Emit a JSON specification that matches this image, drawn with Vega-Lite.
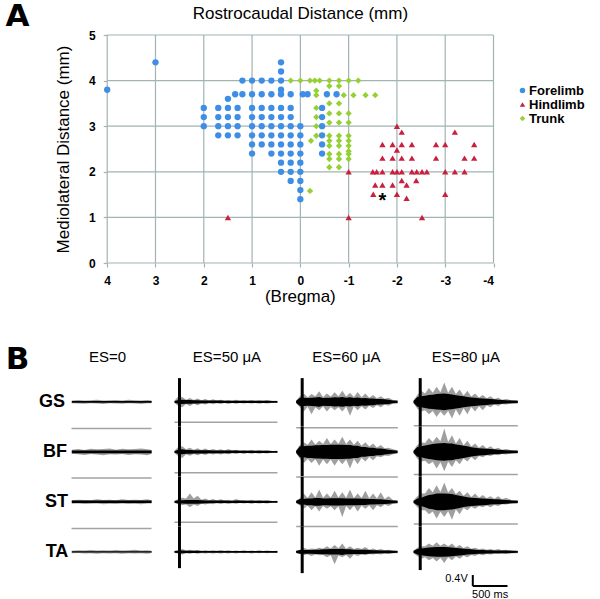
{
"$schema": "https://vega.github.io/schema/vega-lite/v6.json",
"background": "white",
"padding": {"left": 5, "top": 0, "right": 5, "bottom": 0},
"config": {"font": "Liberation Sans", "view": {"stroke": null}},
"spacing": 38,
"vconcat": [
{
"width": 438.5, "height": 228,
"layer": [
{
"data": {"values": [
{"x":4,"x2":4,"y":0,"y2":5},{"x":3,"x2":3,"y":0,"y2":5},{"x":2,"x2":2,"y":0,"y2":5},{"x":1,"x2":1,"y":0,"y2":5},{"x":0,"x2":0,"y":0,"y2":5},{"x":-1,"x2":-1,"y":0,"y2":5},{"x":-2,"x2":-2,"y":0,"y2":5},{"x":-3,"x2":-3,"y":0,"y2":5},{"x":-4,"x2":-4,"y":0,"y2":5},
{"x":4,"x2":-4,"y":0,"y2":0},{"x":4,"x2":-4,"y":1,"y2":1},{"x":4,"x2":-4,"y":2,"y2":2},{"x":4,"x2":-4,"y":3,"y2":3},{"x":4,"x2":-4,"y":4,"y2":4},{"x":4,"x2":-4,"y":5,"y2":5}
]},
"mark": {"type": "rule", "color": "#a2b3b3", "strokeWidth": 1.2},
"encoding": {"x": {"field": "x", "type": "quantitative"}, "x2": {"field": "x2"}, "y": {"field": "y", "type": "quantitative"}, "y2": {"field": "y2"}}
},
{
"data": {"values": [
{"g":"Forelimb","x":4.0,"y":3.8},{"g":"Forelimb","x":3.0,"y":4.4},{"g":"Forelimb","x":0.4,"y":4.4},{"g":"Forelimb","x":0.4,"y":4.2},
{"g":"Forelimb","x":1.2,"y":4.0},{"g":"Forelimb","x":1.0,"y":4.0},{"g":"Forelimb","x":0.8,"y":4.0},{"g":"Forelimb","x":0.6,"y":4.0},{"g":"Forelimb","x":0.4,"y":4.0},
{"g":"Forelimb","x":0.4,"y":3.8},
{"g":"Forelimb","x":1.35,"y":3.7},{"g":"Forelimb","x":1.2,"y":3.7},{"g":"Forelimb","x":1.0,"y":3.7},{"g":"Forelimb","x":0.8,"y":3.7},{"g":"Forelimb","x":0.6,"y":3.7},{"g":"Forelimb","x":0.4,"y":3.7},{"g":"Forelimb","x":0.2,"y":3.7},{"g":"Forelimb","x":-0.05,"y":3.7},{"g":"Forelimb","x":-0.15,"y":3.7},{"g":"Forelimb","x":-0.55,"y":3.7},{"g":"Forelimb","x":-0.75,"y":3.7},
{"g":"Forelimb","x":1.5,"y":3.6},
{"g":"Forelimb","x":2.0,"y":3.4},{"g":"Forelimb","x":1.7,"y":3.4},{"g":"Forelimb","x":1.5,"y":3.4},{"g":"Forelimb","x":1.3,"y":3.4},{"g":"Forelimb","x":1.0,"y":3.4},{"g":"Forelimb","x":0.8,"y":3.4},{"g":"Forelimb","x":0.6,"y":3.4},{"g":"Forelimb","x":0.4,"y":3.4},{"g":"Forelimb","x":0.2,"y":3.4},{"g":"Forelimb","x":-0.45,"y":3.4},
{"g":"Forelimb","x":2.0,"y":3.2},{"g":"Forelimb","x":1.7,"y":3.2},{"g":"Forelimb","x":1.5,"y":3.2},{"g":"Forelimb","x":1.3,"y":3.2},{"g":"Forelimb","x":1.0,"y":3.2},{"g":"Forelimb","x":0.8,"y":3.2},{"g":"Forelimb","x":0.6,"y":3.2},{"g":"Forelimb","x":0.4,"y":3.2},{"g":"Forelimb","x":0.2,"y":3.2},{"g":"Forelimb","x":-0.45,"y":3.2},
{"g":"Forelimb","x":2.0,"y":3.0},{"g":"Forelimb","x":1.7,"y":3.0},{"g":"Forelimb","x":1.5,"y":3.0},{"g":"Forelimb","x":1.3,"y":3.0},{"g":"Forelimb","x":1.0,"y":3.0},{"g":"Forelimb","x":0.8,"y":3.0},{"g":"Forelimb","x":0.6,"y":3.0},{"g":"Forelimb","x":0.4,"y":3.0},{"g":"Forelimb","x":0.2,"y":3.0},{"g":"Forelimb","x":0.0,"y":3.0},{"g":"Forelimb","x":-0.45,"y":3.0},
{"g":"Forelimb","x":1.7,"y":2.8},{"g":"Forelimb","x":1.5,"y":2.8},{"g":"Forelimb","x":1.3,"y":2.8},{"g":"Forelimb","x":1.0,"y":2.8},{"g":"Forelimb","x":0.8,"y":2.8},{"g":"Forelimb","x":0.6,"y":2.8},{"g":"Forelimb","x":0.4,"y":2.8},{"g":"Forelimb","x":0.2,"y":2.8},{"g":"Forelimb","x":0.0,"y":2.8},{"g":"Forelimb","x":-0.45,"y":2.8},
{"g":"Forelimb","x":1.0,"y":2.6},{"g":"Forelimb","x":0.8,"y":2.6},{"g":"Forelimb","x":0.6,"y":2.6},{"g":"Forelimb","x":0.4,"y":2.6},{"g":"Forelimb","x":0.2,"y":2.6},{"g":"Forelimb","x":0.0,"y":2.6},{"g":"Forelimb","x":-0.45,"y":2.6},
{"g":"Forelimb","x":1.0,"y":2.4},{"g":"Forelimb","x":0.6,"y":2.4},{"g":"Forelimb","x":0.4,"y":2.4},{"g":"Forelimb","x":0.2,"y":2.4},{"g":"Forelimb","x":0.0,"y":2.4},{"g":"Forelimb","x":-0.45,"y":2.4},
{"g":"Forelimb","x":0.4,"y":2.2},{"g":"Forelimb","x":0.2,"y":2.2},{"g":"Forelimb","x":0.0,"y":2.2},
{"g":"Forelimb","x":0.4,"y":2.0},{"g":"Forelimb","x":0.2,"y":2.0},{"g":"Forelimb","x":0.0,"y":2.0},
{"g":"Forelimb","x":0.2,"y":1.8},{"g":"Forelimb","x":0.0,"y":1.8},
{"g":"Forelimb","x":0.0,"y":1.6},{"g":"Forelimb","x":0.0,"y":1.4},
{"g":"Hindlimb","x":1.5,"y":1.0},{"g":"Hindlimb","x":-1.0,"y":1.0},{"g":"Hindlimb","x":-2.52,"y":1.0},
{"g":"Hindlimb","x":-2.0,"y":3.0},{"g":"Hindlimb","x":-2.1,"y":2.87},{"g":"Hindlimb","x":-3.2,"y":2.87},
{"g":"Hindlimb","x":-1.7,"y":2.6},{"g":"Hindlimb","x":-1.91,"y":2.6},{"g":"Hindlimb","x":-2.1,"y":2.6},{"g":"Hindlimb","x":-2.31,"y":2.6},{"g":"Hindlimb","x":-2.81,"y":2.6},{"g":"Hindlimb","x":-3.0,"y":2.6},{"g":"Hindlimb","x":-3.6,"y":2.6},
{"g":"Hindlimb","x":-2.0,"y":2.48},
{"g":"Hindlimb","x":-1.7,"y":2.3},{"g":"Hindlimb","x":-1.91,"y":2.3},{"g":"Hindlimb","x":-2.1,"y":2.3},{"g":"Hindlimb","x":-2.31,"y":2.3},{"g":"Hindlimb","x":-2.81,"y":2.3},{"g":"Hindlimb","x":-3.4,"y":2.3},{"g":"Hindlimb","x":-3.6,"y":2.3},
{"g":"Hindlimb","x":-1.0,"y":2.0},{"g":"Hindlimb","x":-1.5,"y":2.0},{"g":"Hindlimb","x":-1.58,"y":2.0},{"g":"Hindlimb","x":-1.7,"y":2.0},{"g":"Hindlimb","x":-1.91,"y":2.0},{"g":"Hindlimb","x":-2.0,"y":2.0},{"g":"Hindlimb","x":-2.1,"y":2.0},{"g":"Hindlimb","x":-2.31,"y":2.0},{"g":"Hindlimb","x":-2.41,"y":2.0},{"g":"Hindlimb","x":-2.52,"y":2.0},{"g":"Hindlimb","x":-2.62,"y":2.0},{"g":"Hindlimb","x":-3.0,"y":2.0},{"g":"Hindlimb","x":-3.2,"y":2.0},{"g":"Hindlimb","x":-3.4,"y":2.0},
{"g":"Hindlimb","x":-2.1,"y":1.81},{"g":"Hindlimb","x":-2.4,"y":1.81},
{"g":"Hindlimb","x":-1.55,"y":1.71},{"g":"Hindlimb","x":-1.7,"y":1.71},{"g":"Hindlimb","x":-1.91,"y":1.71},{"g":"Hindlimb","x":-2.2,"y":1.71},
{"g":"Hindlimb","x":-1.51,"y":1.51},{"g":"Hindlimb","x":-2.0,"y":1.51},{"g":"Hindlimb","x":-3.0,"y":1.51},
{"g":"Hindlimb","x":-2.2,"y":1.42},
{"g":"Trunk","x":0.2,"y":4.0},{"g":"Trunk","x":0.0,"y":4.0},{"g":"Trunk","x":-0.2,"y":4.0},{"g":"Trunk","x":-0.3,"y":4.0},{"g":"Trunk","x":-0.4,"y":4.0},{"g":"Trunk","x":-0.6,"y":4.0},{"g":"Trunk","x":-0.8,"y":4.0},{"g":"Trunk","x":-1.0,"y":4.0},{"g":"Trunk","x":-1.2,"y":4.0},
{"g":"Trunk","x":-0.6,"y":3.88},{"g":"Trunk","x":-0.8,"y":3.88},
{"g":"Trunk","x":-0.33,"y":3.78},
{"g":"Trunk","x":-0.33,"y":3.68},{"g":"Trunk","x":-0.9,"y":3.68},{"g":"Trunk","x":-1.1,"y":3.68},{"g":"Trunk","x":-1.35,"y":3.68},{"g":"Trunk","x":-1.55,"y":3.68},
{"g":"Trunk","x":-0.6,"y":3.5},{"g":"Trunk","x":-0.8,"y":3.5},
{"g":"Trunk","x":-0.33,"y":3.4},
{"g":"Trunk","x":-0.6,"y":3.28},{"g":"Trunk","x":-0.8,"y":3.28},{"g":"Trunk","x":-1.0,"y":3.28},
{"g":"Trunk","x":-0.33,"y":3.2},
{"g":"Trunk","x":-0.6,"y":3.08},{"g":"Trunk","x":-0.8,"y":3.08},{"g":"Trunk","x":-1.0,"y":3.08},
{"g":"Trunk","x":-0.33,"y":3.0},
{"g":"Trunk","x":-0.33,"y":2.79},{"g":"Trunk","x":-0.6,"y":2.79},{"g":"Trunk","x":-0.8,"y":2.79},{"g":"Trunk","x":-1.0,"y":2.79},
{"g":"Trunk","x":-0.22,"y":2.68},{"g":"Trunk","x":-0.6,"y":2.68},{"g":"Trunk","x":-0.8,"y":2.68},{"g":"Trunk","x":-1.0,"y":2.68},
{"g":"Trunk","x":-0.6,"y":2.57},{"g":"Trunk","x":-0.8,"y":2.57},{"g":"Trunk","x":-1.0,"y":2.57},
{"g":"Trunk","x":-1.0,"y":2.45},
{"g":"Trunk","x":-0.6,"y":2.39},{"g":"Trunk","x":-0.8,"y":2.39},{"g":"Trunk","x":-1.0,"y":2.39},
{"g":"Trunk","x":-0.6,"y":2.28},{"g":"Trunk","x":-0.8,"y":2.28},{"g":"Trunk","x":-1.0,"y":2.28},
{"g":"Trunk","x":-0.6,"y":2.1},{"g":"Trunk","x":-0.8,"y":2.1},
{"g":"Trunk","x":-0.2,"y":1.58}
]},
"mark": {"type": "point", "filled": true, "opacity": 1, "size": 40},
"encoding": {
"x": {"field": "x", "type": "quantitative", "title": null,
 "scale": {"domain": [-4, 5.081], "reverse": true, "nice": false, "zero": false},
 "axis": {"values": [-4,-3,-2,-1,0,1,2,3,4], "labelExpr": "datum.value", "grid": false, "domain": false, "tickColor": "#a2b3b3", "tickWidth": 1.2, "tickSize": 4, "labelFontWeight": "bold", "labelFontSize": 12, "labelColor": "black", "labelPadding": 8}},
"y": {"field": "y", "type": "quantitative", "title": "Mediolateral Distance (mm)",
 "scale": {"domain": [0, 5], "nice": false, "zero": false},
 "axis": {"values": [0,1,2,3,4,5], "offset": -52.2, "grid": false, "domain": false, "tickColor": "#a2b3b3", "tickWidth": 1.2, "tickSize": 4, "labelFontWeight": "bold", "labelFontSize": 12, "labelColor": "black", "labelPadding": 8, "titleFontSize": 17, "titleFontWeight": "normal", "titleColor": "black", "titlePadding": 16}},
"color": {"field": "g", "type": "nominal", "scale": {"domain": ["Forelimb","Hindlimb","Trunk"], "range": ["#3f8ee6","#c8203e","#95d035"]},
 "legend": {"title": null, "orient": "none", "legendX": 461, "legendY": 49, "labelFontWeight": "bold", "labelFontSize": 13, "labelColor": "black", "symbolSize": 30, "rowPadding": 0, "labelOffset": 0}},
"shape": {"field": "g", "type": "nominal", "scale": {"domain": ["Forelimb","Hindlimb","Trunk"], "range": ["circle","triangle-up","diamond"]}}
}
},
{
"data": {"values": [{"x": -1.7, "y": 1.45, "s": "*"}]},
"mark": {"type": "text", "fontSize": 20, "fontWeight": "bold", "color": "black", "baseline": "middle", "dy": 4},
"encoding": {"x": {"field": "x", "type": "quantitative"}, "y": {"field": "y", "type": "quantitative"}, "text": {"field": "s"}}
},
{
"data": {"values": [{"x": 0, "y": 5.45, "s": "Rostrocaudal Distance (mm)"}, {"x": 0, "y": -0.75, "s": "(Bregma)"}]},
"mark": {"type": "text", "fontSize": 17, "color": "black", "baseline": "middle"},
"encoding": {"x": {"field": "x", "type": "quantitative"}, "y": {"field": "y", "type": "quantitative"}, "text": {"field": "s"}}
},
{
"data": {"values": [{"x": 5.86, "y": 5.4, "s": "A"}]},
"mark": {"type": "text", "fontSize": 31, "fontWeight": "bold", "font": "DejaVu Sans", "color": "black", "baseline": "middle"},
"encoding": {"x": {"field": "x", "type": "quantitative"}, "y": {"field": "y", "type": "quantitative"}, "text": {"field": "s"}}
}
]
},
{
"data": {"values": [
{"k":"tr","c":"ES=0","m":"GS","t":240,"hi":0.05,"lo":-0.05,"ch":0.03,"cl":-0.03},
{"k":"tr","c":"ES=0","m":"GS","t":330,"hi":0.07,"lo":-0.06,"ch":0.03,"cl":-0.03},
{"k":"tr","c":"ES=0","m":"GS","t":420,"hi":0.05,"lo":-0.07,"ch":0.03,"cl":-0.03},
{"k":"tr","c":"ES=0","m":"GS","t":510,"hi":0.06,"lo":-0.05,"ch":0.03,"cl":-0.03},
{"k":"tr","c":"ES=0","m":"GS","t":600,"hi":0.08,"lo":-0.06,"ch":0.03,"cl":-0.03},
{"k":"tr","c":"ES=0","m":"GS","t":690,"hi":0.05,"lo":-0.08,"ch":0.03,"cl":-0.03},
{"k":"tr","c":"ES=0","m":"GS","t":780,"hi":0.06,"lo":-0.05,"ch":0.03,"cl":-0.03},
{"k":"tr","c":"ES=0","m":"GS","t":870,"hi":0.07,"lo":-0.06,"ch":0.03,"cl":-0.03},
{"k":"tr","c":"ES=0","m":"GS","t":960,"hi":0.05,"lo":-0.07,"ch":0.03,"cl":-0.03},
{"k":"tr","c":"ES=0","m":"GS","t":1050,"hi":0.08,"lo":-0.05,"ch":0.03,"cl":-0.03},
{"k":"tr","c":"ES=0","m":"GS","t":1140,"hi":0.06,"lo":-0.06,"ch":0.03,"cl":-0.03},
{"k":"tr","c":"ES=0","m":"GS","t":1230,"hi":0.05,"lo":-0.08,"ch":0.03,"cl":-0.03},
{"k":"tr","c":"ES=0","m":"GS","t":1320,"hi":0.07,"lo":-0.05,"ch":0.03,"cl":-0.03},
{"k":"tr","c":"ES=0","m":"GS","t":1380,"hi":0.05,"lo":-0.05,"ch":0.03,"cl":-0.03},
{"k":"tr","c":"ES=0","m":"BF","t":240,"hi":0.08,"lo":-0.07,"ch":0.05,"cl":-0.05},
{"k":"tr","c":"ES=0","m":"BF","t":330,"hi":0.1,"lo":-0.09,"ch":0.05,"cl":-0.05},
{"k":"tr","c":"ES=0","m":"BF","t":420,"hi":0.07,"lo":-0.11,"ch":0.05,"cl":-0.05},
{"k":"tr","c":"ES=0","m":"BF","t":510,"hi":0.11,"lo":-0.08,"ch":0.05,"cl":-0.05},
{"k":"tr","c":"ES=0","m":"BF","t":600,"hi":0.09,"lo":-0.1,"ch":0.05,"cl":-0.05},
{"k":"tr","c":"ES=0","m":"BF","t":690,"hi":0.1,"lo":-0.12,"ch":0.05,"cl":-0.05},
{"k":"tr","c":"ES=0","m":"BF","t":780,"hi":0.12,"lo":-0.09,"ch":0.05,"cl":-0.05},
{"k":"tr","c":"ES=0","m":"BF","t":870,"hi":0.08,"lo":-0.1,"ch":0.05,"cl":-0.05},
{"k":"tr","c":"ES=0","m":"BF","t":960,"hi":0.11,"lo":-0.08,"ch":0.05,"cl":-0.05},
{"k":"tr","c":"ES=0","m":"BF","t":1050,"hi":0.09,"lo":-0.11,"ch":0.05,"cl":-0.05},
{"k":"tr","c":"ES=0","m":"BF","t":1140,"hi":0.1,"lo":-0.09,"ch":0.05,"cl":-0.05},
{"k":"tr","c":"ES=0","m":"BF","t":1230,"hi":0.12,"lo":-0.1,"ch":0.05,"cl":-0.05},
{"k":"tr","c":"ES=0","m":"BF","t":1320,"hi":0.09,"lo":-0.12,"ch":0.05,"cl":-0.05},
{"k":"tr","c":"ES=0","m":"BF","t":1380,"hi":0.07,"lo":-0.07,"ch":0.05,"cl":-0.05},
{"k":"tr","c":"ES=0","m":"ST","t":240,"hi":0.06,"lo":-0.07,"ch":0.045,"cl":-0.045},
{"k":"tr","c":"ES=0","m":"ST","t":330,"hi":0.08,"lo":-0.06,"ch":0.045,"cl":-0.045},
{"k":"tr","c":"ES=0","m":"ST","t":420,"hi":0.07,"lo":-0.08,"ch":0.045,"cl":-0.045},
{"k":"tr","c":"ES=0","m":"ST","t":510,"hi":0.06,"lo":-0.07,"ch":0.045,"cl":-0.045},
{"k":"tr","c":"ES=0","m":"ST","t":600,"hi":0.09,"lo":-0.06,"ch":0.045,"cl":-0.045},
{"k":"tr","c":"ES=0","m":"ST","t":690,"hi":0.07,"lo":-0.09,"ch":0.045,"cl":-0.045},
{"k":"tr","c":"ES=0","m":"ST","t":780,"hi":0.08,"lo":-0.07,"ch":0.045,"cl":-0.045},
{"k":"tr","c":"ES=0","m":"ST","t":870,"hi":0.06,"lo":-0.08,"ch":0.045,"cl":-0.045},
{"k":"tr","c":"ES=0","m":"ST","t":960,"hi":0.09,"lo":-0.06,"ch":0.045,"cl":-0.045},
{"k":"tr","c":"ES=0","m":"ST","t":1050,"hi":0.07,"lo":-0.08,"ch":0.045,"cl":-0.045},
{"k":"tr","c":"ES=0","m":"ST","t":1140,"hi":0.08,"lo":-0.07,"ch":0.045,"cl":-0.045},
{"k":"tr","c":"ES=0","m":"ST","t":1230,"hi":0.07,"lo":-0.09,"ch":0.045,"cl":-0.045},
{"k":"tr","c":"ES=0","m":"ST","t":1320,"hi":0.09,"lo":-0.06,"ch":0.045,"cl":-0.045},
{"k":"tr","c":"ES=0","m":"ST","t":1380,"hi":0.06,"lo":-0.06,"ch":0.045,"cl":-0.045},
{"k":"tr","c":"ES=0","m":"TA","t":240,"hi":0.04,"lo":-0.05,"ch":0.025,"cl":-0.025},
{"k":"tr","c":"ES=0","m":"TA","t":330,"hi":0.06,"lo":-0.04,"ch":0.025,"cl":-0.025},
{"k":"tr","c":"ES=0","m":"TA","t":420,"hi":0.05,"lo":-0.06,"ch":0.025,"cl":-0.025},
{"k":"tr","c":"ES=0","m":"TA","t":510,"hi":0.07,"lo":-0.05,"ch":0.025,"cl":-0.025},
{"k":"tr","c":"ES=0","m":"TA","t":600,"hi":0.05,"lo":-0.07,"ch":0.025,"cl":-0.025},
{"k":"tr","c":"ES=0","m":"TA","t":690,"hi":0.06,"lo":-0.05,"ch":0.025,"cl":-0.025},
{"k":"tr","c":"ES=0","m":"TA","t":780,"hi":0.05,"lo":-0.06,"ch":0.025,"cl":-0.025},
{"k":"tr","c":"ES=0","m":"TA","t":870,"hi":0.07,"lo":-0.05,"ch":0.025,"cl":-0.025},
{"k":"tr","c":"ES=0","m":"TA","t":960,"hi":0.05,"lo":-0.07,"ch":0.025,"cl":-0.025},
{"k":"tr","c":"ES=0","m":"TA","t":1050,"hi":0.06,"lo":-0.05,"ch":0.025,"cl":-0.025},
{"k":"tr","c":"ES=0","m":"TA","t":1140,"hi":0.08,"lo":-0.06,"ch":0.025,"cl":-0.025},
{"k":"tr","c":"ES=0","m":"TA","t":1230,"hi":0.05,"lo":-0.05,"ch":0.025,"cl":-0.025},
{"k":"tr","c":"ES=0","m":"TA","t":1320,"hi":0.06,"lo":-0.07,"ch":0.025,"cl":-0.025},
{"k":"tr","c":"ES=0","m":"TA","t":1380,"hi":0.04,"lo":-0.04,"ch":0.025,"cl":-0.025},
{"k":"tr","c":"ES=50 μA","m":"GS","t":0,"hi":0.04,"lo":-0.04,"ch":0.03,"cl":-0.03},
{"k":"tr","c":"ES=50 μA","m":"GS","t":110,"hi":0.18,"lo":-0.2,"ch":0.08,"cl":-0.08},
{"k":"tr","c":"ES=50 μA","m":"GS","t":220,"hi":0.14,"lo":-0.15,"ch":0.07,"cl":-0.07},
{"k":"tr","c":"ES=50 μA","m":"GS","t":330,"hi":0.12,"lo":-0.12,"ch":0.06,"cl":-0.06},
{"k":"tr","c":"ES=50 μA","m":"GS","t":440,"hi":0.1,"lo":-0.1,"ch":0.05,"cl":-0.05},
{"k":"tr","c":"ES=50 μA","m":"GS","t":550,"hi":0.09,"lo":-0.09,"ch":0.045,"cl":-0.045},
{"k":"tr","c":"ES=50 μA","m":"GS","t":660,"hi":0.08,"lo":-0.08,"ch":0.045,"cl":-0.045},
{"k":"tr","c":"ES=50 μA","m":"GS","t":770,"hi":0.07,"lo":-0.08,"ch":0.04,"cl":-0.04},
{"k":"tr","c":"ES=50 μA","m":"GS","t":880,"hi":0.08,"lo":-0.07,"ch":0.04,"cl":-0.04},
{"k":"tr","c":"ES=50 μA","m":"GS","t":990,"hi":0.06,"lo":-0.06,"ch":0.04,"cl":-0.04},
{"k":"tr","c":"ES=50 μA","m":"GS","t":1100,"hi":0.07,"lo":-0.06,"ch":0.04,"cl":-0.04},
{"k":"tr","c":"ES=50 μA","m":"GS","t":1210,"hi":0.06,"lo":-0.07,"ch":0.04,"cl":-0.04},
{"k":"tr","c":"ES=50 μA","m":"GS","t":1320,"hi":0.07,"lo":-0.06,"ch":0.04,"cl":-0.04},
{"k":"tr","c":"ES=50 μA","m":"GS","t":1470,"hi":0.04,"lo":-0.04,"ch":0.03,"cl":-0.03},
{"k":"tr","c":"ES=50 μA","m":"BF","t":0,"hi":0.04,"lo":-0.04,"ch":0.03,"cl":-0.03},
{"k":"tr","c":"ES=50 μA","m":"BF","t":110,"hi":0.2,"lo":-0.22,"ch":0.09,"cl":-0.09},
{"k":"tr","c":"ES=50 μA","m":"BF","t":220,"hi":0.15,"lo":-0.14,"ch":0.07,"cl":-0.07},
{"k":"tr","c":"ES=50 μA","m":"BF","t":330,"hi":0.13,"lo":-0.12,"ch":0.06,"cl":-0.06},
{"k":"tr","c":"ES=50 μA","m":"BF","t":440,"hi":0.12,"lo":-0.11,"ch":0.06,"cl":-0.06},
{"k":"tr","c":"ES=50 μA","m":"BF","t":550,"hi":0.1,"lo":-0.1,"ch":0.05,"cl":-0.05},
{"k":"tr","c":"ES=50 μA","m":"BF","t":660,"hi":0.09,"lo":-0.1,"ch":0.05,"cl":-0.05},
{"k":"tr","c":"ES=50 μA","m":"BF","t":770,"hi":0.1,"lo":-0.09,"ch":0.05,"cl":-0.05},
{"k":"tr","c":"ES=50 μA","m":"BF","t":880,"hi":0.08,"lo":-0.08,"ch":0.045,"cl":-0.045},
{"k":"tr","c":"ES=50 μA","m":"BF","t":990,"hi":0.07,"lo":-0.08,"ch":0.04,"cl":-0.04},
{"k":"tr","c":"ES=50 μA","m":"BF","t":1100,"hi":0.08,"lo":-0.07,"ch":0.04,"cl":-0.04},
{"k":"tr","c":"ES=50 μA","m":"BF","t":1210,"hi":0.07,"lo":-0.07,"ch":0.04,"cl":-0.04},
{"k":"tr","c":"ES=50 μA","m":"BF","t":1320,"hi":0.06,"lo":-0.06,"ch":0.04,"cl":-0.04},
{"k":"tr","c":"ES=50 μA","m":"BF","t":1470,"hi":0.04,"lo":-0.04,"ch":0.03,"cl":-0.03},
{"k":"tr","c":"ES=50 μA","m":"ST","t":0,"hi":0.04,"lo":-0.04,"ch":0.03,"cl":-0.03},
{"k":"tr","c":"ES=50 μA","m":"ST","t":110,"hi":0.15,"lo":-0.12,"ch":0.06,"cl":-0.06},
{"k":"tr","c":"ES=50 μA","m":"ST","t":220,"hi":0.3,"lo":-0.2,"ch":0.07,"cl":-0.07},
{"k":"tr","c":"ES=50 μA","m":"ST","t":330,"hi":0.22,"lo":-0.15,"ch":0.07,"cl":-0.07},
{"k":"tr","c":"ES=50 μA","m":"ST","t":440,"hi":0.12,"lo":-0.1,"ch":0.05,"cl":-0.05},
{"k":"tr","c":"ES=50 μA","m":"ST","t":550,"hi":0.1,"lo":-0.09,"ch":0.045,"cl":-0.045},
{"k":"tr","c":"ES=50 μA","m":"ST","t":660,"hi":0.09,"lo":-0.08,"ch":0.045,"cl":-0.045},
{"k":"tr","c":"ES=50 μA","m":"ST","t":770,"hi":0.08,"lo":-0.08,"ch":0.04,"cl":-0.04},
{"k":"tr","c":"ES=50 μA","m":"ST","t":880,"hi":0.1,"lo":-0.07,"ch":0.045,"cl":-0.045},
{"k":"tr","c":"ES=50 μA","m":"ST","t":990,"hi":0.07,"lo":-0.06,"ch":0.04,"cl":-0.04},
{"k":"tr","c":"ES=50 μA","m":"ST","t":1100,"hi":0.08,"lo":-0.07,"ch":0.04,"cl":-0.04},
{"k":"tr","c":"ES=50 μA","m":"ST","t":1210,"hi":0.07,"lo":-0.06,"ch":0.04,"cl":-0.04},
{"k":"tr","c":"ES=50 μA","m":"ST","t":1320,"hi":0.06,"lo":-0.06,"ch":0.04,"cl":-0.04},
{"k":"tr","c":"ES=50 μA","m":"ST","t":1470,"hi":0.04,"lo":-0.04,"ch":0.03,"cl":-0.03},
{"k":"tr","c":"ES=50 μA","m":"TA","t":0,"hi":0.04,"lo":-0.04,"ch":0.03,"cl":-0.03},
{"k":"tr","c":"ES=50 μA","m":"TA","t":110,"hi":0.1,"lo":-0.1,"ch":0.05,"cl":-0.05},
{"k":"tr","c":"ES=50 μA","m":"TA","t":220,"hi":0.08,"lo":-0.07,"ch":0.04,"cl":-0.04},
{"k":"tr","c":"ES=50 μA","m":"TA","t":330,"hi":0.07,"lo":-0.07,"ch":0.04,"cl":-0.04},
{"k":"tr","c":"ES=50 μA","m":"TA","t":440,"hi":0.06,"lo":-0.06,"ch":0.035,"cl":-0.035},
{"k":"tr","c":"ES=50 μA","m":"TA","t":550,"hi":0.06,"lo":-0.06,"ch":0.035,"cl":-0.035},
{"k":"tr","c":"ES=50 μA","m":"TA","t":660,"hi":0.07,"lo":-0.06,"ch":0.035,"cl":-0.035},
{"k":"tr","c":"ES=50 μA","m":"TA","t":770,"hi":0.06,"lo":-0.06,"ch":0.035,"cl":-0.035},
{"k":"tr","c":"ES=50 μA","m":"TA","t":880,"hi":0.05,"lo":-0.06,"ch":0.03,"cl":-0.03},
{"k":"tr","c":"ES=50 μA","m":"TA","t":990,"hi":0.06,"lo":-0.05,"ch":0.035,"cl":-0.035},
{"k":"tr","c":"ES=50 μA","m":"TA","t":1100,"hi":0.05,"lo":-0.06,"ch":0.03,"cl":-0.03},
{"k":"tr","c":"ES=50 μA","m":"TA","t":1210,"hi":0.06,"lo":-0.05,"ch":0.035,"cl":-0.035},
{"k":"tr","c":"ES=50 μA","m":"TA","t":1320,"hi":0.05,"lo":-0.05,"ch":0.03,"cl":-0.03},
{"k":"tr","c":"ES=50 μA","m":"TA","t":1470,"hi":0.04,"lo":-0.04,"ch":0.03,"cl":-0.03},
{"k":"tr","c":"ES=60 μA","m":"GS","t":30,"hi":0.05,"lo":-0.05,"ch":0.03,"cl":-0.03},
{"k":"tr","c":"ES=60 μA","m":"GS","t":140,"hi":0.3,"lo":-0.35,"ch":0.15,"cl":-0.15},
{"k":"tr","c":"ES=60 μA","m":"GS","t":250,"hi":0.28,"lo":-0.45,"ch":0.15,"cl":-0.15},
{"k":"tr","c":"ES=60 μA","m":"GS","t":360,"hi":0.38,"lo":-0.3,"ch":0.18,"cl":-0.18},
{"k":"tr","c":"ES=60 μA","m":"GS","t":470,"hi":0.3,"lo":-0.35,"ch":0.15,"cl":-0.15},
{"k":"tr","c":"ES=60 μA","m":"GS","t":580,"hi":0.35,"lo":-0.3,"ch":0.17,"cl":-0.17},
{"k":"tr","c":"ES=60 μA","m":"GS","t":690,"hi":0.4,"lo":-0.35,"ch":0.18,"cl":-0.18},
{"k":"tr","c":"ES=60 μA","m":"GS","t":800,"hi":0.33,"lo":-0.5,"ch":0.17,"cl":-0.17},
{"k":"tr","c":"ES=60 μA","m":"GS","t":910,"hi":0.36,"lo":-0.3,"ch":0.16,"cl":-0.16},
{"k":"tr","c":"ES=60 μA","m":"GS","t":1020,"hi":0.3,"lo":-0.28,"ch":0.14,"cl":-0.14},
{"k":"tr","c":"ES=60 μA","m":"GS","t":1130,"hi":0.25,"lo":-0.22,"ch":0.12,"cl":-0.12},
{"k":"tr","c":"ES=60 μA","m":"GS","t":1240,"hi":0.2,"lo":-0.2,"ch":0.1,"cl":-0.1},
{"k":"tr","c":"ES=60 μA","m":"GS","t":1350,"hi":0.15,"lo":-0.14,"ch":0.08,"cl":-0.08},
{"k":"tr","c":"ES=60 μA","m":"GS","t":1480,"hi":0.06,"lo":-0.06,"ch":0.04,"cl":-0.04},
{"k":"tr","c":"ES=60 μA","m":"BF","t":30,"hi":0.05,"lo":-0.05,"ch":0.03,"cl":-0.03},
{"k":"tr","c":"ES=60 μA","m":"BF","t":140,"hi":0.35,"lo":-0.4,"ch":0.2,"cl":-0.2},
{"k":"tr","c":"ES=60 μA","m":"BF","t":250,"hi":0.45,"lo":-0.4,"ch":0.22,"cl":-0.22},
{"k":"tr","c":"ES=60 μA","m":"BF","t":360,"hi":0.4,"lo":-0.5,"ch":0.24,"cl":-0.24},
{"k":"tr","c":"ES=60 μA","m":"BF","t":470,"hi":0.5,"lo":-0.45,"ch":0.25,"cl":-0.25},
{"k":"tr","c":"ES=60 μA","m":"BF","t":580,"hi":0.45,"lo":-0.5,"ch":0.26,"cl":-0.26},
{"k":"tr","c":"ES=60 μA","m":"BF","t":690,"hi":0.55,"lo":-0.45,"ch":0.26,"cl":-0.26},
{"k":"tr","c":"ES=60 μA","m":"BF","t":800,"hi":0.45,"lo":-0.6,"ch":0.25,"cl":-0.25},
{"k":"tr","c":"ES=60 μA","m":"BF","t":910,"hi":0.4,"lo":-0.45,"ch":0.22,"cl":-0.22},
{"k":"tr","c":"ES=60 μA","m":"BF","t":1020,"hi":0.35,"lo":-0.35,"ch":0.18,"cl":-0.18},
{"k":"tr","c":"ES=60 μA","m":"BF","t":1130,"hi":0.3,"lo":-0.3,"ch":0.15,"cl":-0.15},
{"k":"tr","c":"ES=60 μA","m":"BF","t":1240,"hi":0.25,"lo":-0.2,"ch":0.12,"cl":-0.12},
{"k":"tr","c":"ES=60 μA","m":"BF","t":1350,"hi":0.15,"lo":-0.15,"ch":0.08,"cl":-0.08},
{"k":"tr","c":"ES=60 μA","m":"BF","t":1480,"hi":0.06,"lo":-0.06,"ch":0.04,"cl":-0.04},
{"k":"tr","c":"ES=60 μA","m":"ST","t":30,"hi":0.05,"lo":-0.05,"ch":0.03,"cl":-0.03},
{"k":"tr","c":"ES=60 μA","m":"ST","t":140,"hi":0.3,"lo":-0.25,"ch":0.1,"cl":-0.1},
{"k":"tr","c":"ES=60 μA","m":"ST","t":250,"hi":0.35,"lo":-0.3,"ch":0.12,"cl":-0.12},
{"k":"tr","c":"ES=60 μA","m":"ST","t":360,"hi":0.45,"lo":-0.35,"ch":0.14,"cl":-0.14},
{"k":"tr","c":"ES=60 μA","m":"ST","t":470,"hi":0.3,"lo":-0.25,"ch":0.12,"cl":-0.12},
{"k":"tr","c":"ES=60 μA","m":"ST","t":580,"hi":0.4,"lo":-0.3,"ch":0.13,"cl":-0.13},
{"k":"tr","c":"ES=60 μA","m":"ST","t":690,"hi":0.35,"lo":-0.55,"ch":0.13,"cl":-0.13},
{"k":"tr","c":"ES=60 μA","m":"ST","t":800,"hi":0.45,"lo":-0.3,"ch":0.12,"cl":-0.12},
{"k":"tr","c":"ES=60 μA","m":"ST","t":910,"hi":0.3,"lo":-0.35,"ch":0.12,"cl":-0.12},
{"k":"tr","c":"ES=60 μA","m":"ST","t":1020,"hi":0.4,"lo":-0.25,"ch":0.11,"cl":-0.11},
{"k":"tr","c":"ES=60 μA","m":"ST","t":1130,"hi":0.3,"lo":-0.3,"ch":0.1,"cl":-0.1},
{"k":"tr","c":"ES=60 μA","m":"ST","t":1240,"hi":0.35,"lo":-0.2,"ch":0.09,"cl":-0.09},
{"k":"tr","c":"ES=60 μA","m":"ST","t":1350,"hi":0.2,"lo":-0.15,"ch":0.07,"cl":-0.07},
{"k":"tr","c":"ES=60 μA","m":"ST","t":1480,"hi":0.06,"lo":-0.06,"ch":0.04,"cl":-0.04},
{"k":"tr","c":"ES=60 μA","m":"TA","t":30,"hi":0.05,"lo":-0.05,"ch":0.03,"cl":-0.03},
{"k":"tr","c":"ES=60 μA","m":"TA","t":140,"hi":0.15,"lo":-0.12,"ch":0.07,"cl":-0.07},
{"k":"tr","c":"ES=60 μA","m":"TA","t":250,"hi":0.12,"lo":-0.15,"ch":0.07,"cl":-0.07},
{"k":"tr","c":"ES=60 μA","m":"TA","t":360,"hi":0.15,"lo":-0.12,"ch":0.08,"cl":-0.08},
{"k":"tr","c":"ES=60 μA","m":"TA","t":470,"hi":0.2,"lo":-0.2,"ch":0.09,"cl":-0.09},
{"k":"tr","c":"ES=60 μA","m":"TA","t":580,"hi":0.25,"lo":-0.45,"ch":0.1,"cl":-0.1},
{"k":"tr","c":"ES=60 μA","m":"TA","t":690,"hi":0.3,"lo":-0.2,"ch":0.11,"cl":-0.11},
{"k":"tr","c":"ES=60 μA","m":"TA","t":800,"hi":0.2,"lo":-0.25,"ch":0.09,"cl":-0.09},
{"k":"tr","c":"ES=60 μA","m":"TA","t":910,"hi":0.15,"lo":-0.15,"ch":0.08,"cl":-0.08},
{"k":"tr","c":"ES=60 μA","m":"TA","t":1020,"hi":0.18,"lo":-0.12,"ch":0.08,"cl":-0.08},
{"k":"tr","c":"ES=60 μA","m":"TA","t":1130,"hi":0.12,"lo":-0.1,"ch":0.06,"cl":-0.06},
{"k":"tr","c":"ES=60 μA","m":"TA","t":1240,"hi":0.1,"lo":-0.1,"ch":0.05,"cl":-0.05},
{"k":"tr","c":"ES=60 μA","m":"TA","t":1350,"hi":0.08,"lo":-0.08,"ch":0.05,"cl":-0.05},
{"k":"tr","c":"ES=60 μA","m":"TA","t":1480,"hi":0.05,"lo":-0.05,"ch":0.03,"cl":-0.03},
{"k":"tr","c":"ES=80 μA","m":"GS","t":0,"hi":0.05,"lo":-0.05,"ch":0.03,"cl":-0.03},
{"k":"tr","c":"ES=80 μA","m":"GS","t":110,"hi":0.4,"lo":-0.35,"ch":0.2,"cl":-0.2},
{"k":"tr","c":"ES=80 μA","m":"GS","t":220,"hi":0.5,"lo":-0.45,"ch":0.25,"cl":-0.25},
{"k":"tr","c":"ES=80 μA","m":"GS","t":330,"hi":0.55,"lo":-0.55,"ch":0.28,"cl":-0.28},
{"k":"tr","c":"ES=80 μA","m":"GS","t":440,"hi":0.7,"lo":-0.5,"ch":0.3,"cl":-0.3},
{"k":"tr","c":"ES=80 μA","m":"GS","t":550,"hi":0.55,"lo":-0.6,"ch":0.27,"cl":-0.27},
{"k":"tr","c":"ES=80 μA","m":"GS","t":660,"hi":0.45,"lo":-0.5,"ch":0.22,"cl":-0.22},
{"k":"tr","c":"ES=80 μA","m":"GS","t":770,"hi":0.4,"lo":-0.45,"ch":0.18,"cl":-0.18},
{"k":"tr","c":"ES=80 μA","m":"GS","t":880,"hi":0.3,"lo":-0.35,"ch":0.15,"cl":-0.15},
{"k":"tr","c":"ES=80 μA","m":"GS","t":990,"hi":0.25,"lo":-0.3,"ch":0.12,"cl":-0.12},
{"k":"tr","c":"ES=80 μA","m":"GS","t":1100,"hi":0.2,"lo":-0.2,"ch":0.1,"cl":-0.1},
{"k":"tr","c":"ES=80 μA","m":"GS","t":1210,"hi":0.15,"lo":-0.15,"ch":0.08,"cl":-0.08},
{"k":"tr","c":"ES=80 μA","m":"GS","t":1320,"hi":0.1,"lo":-0.1,"ch":0.06,"cl":-0.06},
{"k":"tr","c":"ES=80 μA","m":"GS","t":1490,"hi":0.06,"lo":-0.06,"ch":0.04,"cl":-0.04},
{"k":"tr","c":"ES=80 μA","m":"BF","t":0,"hi":0.05,"lo":-0.05,"ch":0.03,"cl":-0.03},
{"k":"tr","c":"ES=80 μA","m":"BF","t":110,"hi":0.35,"lo":-0.35,"ch":0.2,"cl":-0.2},
{"k":"tr","c":"ES=80 μA","m":"BF","t":220,"hi":0.5,"lo":-0.45,"ch":0.26,"cl":-0.26},
{"k":"tr","c":"ES=80 μA","m":"BF","t":330,"hi":0.55,"lo":-0.6,"ch":0.3,"cl":-0.3},
{"k":"tr","c":"ES=80 μA","m":"BF","t":440,"hi":0.85,"lo":-0.7,"ch":0.32,"cl":-0.32},
{"k":"tr","c":"ES=80 μA","m":"BF","t":550,"hi":0.6,"lo":-0.55,"ch":0.3,"cl":-0.3},
{"k":"tr","c":"ES=80 μA","m":"BF","t":660,"hi":0.5,"lo":-0.45,"ch":0.25,"cl":-0.25},
{"k":"tr","c":"ES=80 μA","m":"BF","t":770,"hi":0.4,"lo":-0.35,"ch":0.2,"cl":-0.2},
{"k":"tr","c":"ES=80 μA","m":"BF","t":880,"hi":0.3,"lo":-0.3,"ch":0.15,"cl":-0.15},
{"k":"tr","c":"ES=80 μA","m":"BF","t":990,"hi":0.25,"lo":-0.2,"ch":0.12,"cl":-0.12},
{"k":"tr","c":"ES=80 μA","m":"BF","t":1100,"hi":0.2,"lo":-0.15,"ch":0.1,"cl":-0.1},
{"k":"tr","c":"ES=80 μA","m":"BF","t":1210,"hi":0.15,"lo":-0.12,"ch":0.08,"cl":-0.08},
{"k":"tr","c":"ES=80 μA","m":"BF","t":1320,"hi":0.1,"lo":-0.1,"ch":0.06,"cl":-0.06},
{"k":"tr","c":"ES=80 μA","m":"BF","t":1490,"hi":0.06,"lo":-0.06,"ch":0.04,"cl":-0.04},
{"k":"tr","c":"ES=80 μA","m":"ST","t":0,"hi":0.05,"lo":-0.05,"ch":0.03,"cl":-0.03},
{"k":"tr","c":"ES=80 μA","m":"ST","t":110,"hi":0.3,"lo":-0.3,"ch":0.15,"cl":-0.15},
{"k":"tr","c":"ES=80 μA","m":"ST","t":220,"hi":0.5,"lo":-0.45,"ch":0.25,"cl":-0.25},
{"k":"tr","c":"ES=80 μA","m":"ST","t":330,"hi":0.6,"lo":-0.6,"ch":0.3,"cl":-0.3},
{"k":"tr","c":"ES=80 μA","m":"ST","t":440,"hi":0.7,"lo":-0.55,"ch":0.3,"cl":-0.3},
{"k":"tr","c":"ES=80 μA","m":"ST","t":550,"hi":0.5,"lo":-0.65,"ch":0.28,"cl":-0.28},
{"k":"tr","c":"ES=80 μA","m":"ST","t":660,"hi":0.4,"lo":-0.45,"ch":0.22,"cl":-0.22},
{"k":"tr","c":"ES=80 μA","m":"ST","t":770,"hi":0.35,"lo":-0.3,"ch":0.17,"cl":-0.17},
{"k":"tr","c":"ES=80 μA","m":"ST","t":880,"hi":0.3,"lo":-0.25,"ch":0.14,"cl":-0.14},
{"k":"tr","c":"ES=80 μA","m":"ST","t":990,"hi":0.25,"lo":-0.2,"ch":0.12,"cl":-0.12},
{"k":"tr","c":"ES=80 μA","m":"ST","t":1100,"hi":0.2,"lo":-0.2,"ch":0.1,"cl":-0.1},
{"k":"tr","c":"ES=80 μA","m":"ST","t":1210,"hi":0.2,"lo":-0.15,"ch":0.09,"cl":-0.09},
{"k":"tr","c":"ES=80 μA","m":"ST","t":1320,"hi":0.15,"lo":-0.1,"ch":0.07,"cl":-0.07},
{"k":"tr","c":"ES=80 μA","m":"ST","t":1490,"hi":0.06,"lo":-0.06,"ch":0.04,"cl":-0.04},
{"k":"tr","c":"ES=80 μA","m":"TA","t":0,"hi":0.05,"lo":-0.05,"ch":0.03,"cl":-0.03},
{"k":"tr","c":"ES=80 μA","m":"TA","t":110,"hi":0.2,"lo":-0.25,"ch":0.12,"cl":-0.12},
{"k":"tr","c":"ES=80 μA","m":"TA","t":220,"hi":0.3,"lo":-0.3,"ch":0.16,"cl":-0.16},
{"k":"tr","c":"ES=80 μA","m":"TA","t":330,"hi":0.35,"lo":-0.35,"ch":0.18,"cl":-0.18},
{"k":"tr","c":"ES=80 μA","m":"TA","t":440,"hi":0.3,"lo":-0.4,"ch":0.18,"cl":-0.18},
{"k":"tr","c":"ES=80 μA","m":"TA","t":550,"hi":0.3,"lo":-0.3,"ch":0.16,"cl":-0.16},
{"k":"tr","c":"ES=80 μA","m":"TA","t":660,"hi":0.25,"lo":-0.25,"ch":0.13,"cl":-0.13},
{"k":"tr","c":"ES=80 μA","m":"TA","t":770,"hi":0.2,"lo":-0.2,"ch":0.1,"cl":-0.1},
{"k":"tr","c":"ES=80 μA","m":"TA","t":880,"hi":0.15,"lo":-0.15,"ch":0.08,"cl":-0.08},
{"k":"tr","c":"ES=80 μA","m":"TA","t":990,"hi":0.12,"lo":-0.12,"ch":0.07,"cl":-0.07},
{"k":"tr","c":"ES=80 μA","m":"TA","t":1100,"hi":0.1,"lo":-0.1,"ch":0.06,"cl":-0.06},
{"k":"tr","c":"ES=80 μA","m":"TA","t":1210,"hi":0.1,"lo":-0.08,"ch":0.05,"cl":-0.05},
{"k":"tr","c":"ES=80 μA","m":"TA","t":1320,"hi":0.08,"lo":-0.08,"ch":0.05,"cl":-0.05},
{"k":"tr","c":"ES=80 μA","m":"TA","t":1490,"hi":0.05,"lo":-0.05,"ch":0.03,"cl":-0.03},
{"k":"tr","c":"ES=50 μA","m":"GS","t":55,"hi":0.2,"lo":-0.15,"ch":0.07,"cl":-0.07},
{"k":"tr","c":"ES=50 μA","m":"GS","t":165,"hi":0.08,"lo":-0.08,"ch":0.07,"cl":-0.07},
{"k":"tr","c":"ES=50 μA","m":"GS","t":275,"hi":0.07,"lo":-0.07,"ch":0.06,"cl":-0.06},
{"k":"tr","c":"ES=50 μA","m":"GS","t":385,"hi":0.06,"lo":-0.06,"ch":0.05,"cl":-0.05},
{"k":"tr","c":"ES=50 μA","m":"GS","t":495,"hi":0.05,"lo":-0.05,"ch":0.045,"cl":-0.045},
{"k":"tr","c":"ES=50 μA","m":"GS","t":605,"hi":0.05,"lo":-0.05,"ch":0.045,"cl":-0.045},
{"k":"tr","c":"ES=50 μA","m":"GS","t":715,"hi":0.045,"lo":-0.045,"ch":0.04,"cl":-0.04},
{"k":"tr","c":"ES=50 μA","m":"GS","t":825,"hi":0.04,"lo":-0.04,"ch":0.04,"cl":-0.04},
{"k":"tr","c":"ES=50 μA","m":"GS","t":935,"hi":0.04,"lo":-0.04,"ch":0.04,"cl":-0.04},
{"k":"tr","c":"ES=50 μA","m":"GS","t":1045,"hi":0.04,"lo":-0.04,"ch":0.04,"cl":-0.04},
{"k":"tr","c":"ES=50 μA","m":"GS","t":1155,"hi":0.04,"lo":-0.04,"ch":0.04,"cl":-0.04},
{"k":"tr","c":"ES=50 μA","m":"GS","t":1265,"hi":0.04,"lo":-0.04,"ch":0.04,"cl":-0.04},
{"k":"tr","c":"ES=50 μA","m":"GS","t":1395,"hi":0.04,"lo":-0.04,"ch":0.035,"cl":-0.035},
{"k":"tr","c":"ES=50 μA","m":"BF","t":55,"hi":0.18,"lo":-0.16,"ch":0.08,"cl":-0.08},
{"k":"tr","c":"ES=50 μA","m":"BF","t":165,"hi":0.09,"lo":-0.09,"ch":0.07,"cl":-0.07},
{"k":"tr","c":"ES=50 μA","m":"BF","t":275,"hi":0.08,"lo":-0.08,"ch":0.06,"cl":-0.06},
{"k":"tr","c":"ES=50 μA","m":"BF","t":385,"hi":0.07,"lo":-0.07,"ch":0.06,"cl":-0.06},
{"k":"tr","c":"ES=50 μA","m":"BF","t":495,"hi":0.06,"lo":-0.06,"ch":0.055,"cl":-0.055},
{"k":"tr","c":"ES=50 μA","m":"BF","t":605,"hi":0.06,"lo":-0.06,"ch":0.05,"cl":-0.05},
{"k":"tr","c":"ES=50 μA","m":"BF","t":715,"hi":0.05,"lo":-0.05,"ch":0.05,"cl":-0.05},
{"k":"tr","c":"ES=50 μA","m":"BF","t":825,"hi":0.05,"lo":-0.05,"ch":0.045,"cl":-0.045},
{"k":"tr","c":"ES=50 μA","m":"BF","t":935,"hi":0.045,"lo":-0.045,"ch":0.04,"cl":-0.04},
{"k":"tr","c":"ES=50 μA","m":"BF","t":1045,"hi":0.045,"lo":-0.045,"ch":0.04,"cl":-0.04},
{"k":"tr","c":"ES=50 μA","m":"BF","t":1155,"hi":0.04,"lo":-0.04,"ch":0.04,"cl":-0.04},
{"k":"tr","c":"ES=50 μA","m":"BF","t":1265,"hi":0.04,"lo":-0.04,"ch":0.04,"cl":-0.04},
{"k":"tr","c":"ES=50 μA","m":"BF","t":1395,"hi":0.035,"lo":-0.035,"ch":0.035,"cl":-0.035},
{"k":"tr","c":"ES=50 μA","m":"ST","t":55,"hi":0.1,"lo":-0.08,"ch":0.06,"cl":-0.06},
{"k":"tr","c":"ES=50 μA","m":"ST","t":165,"hi":0.12,"lo":-0.1,"ch":0.065,"cl":-0.065},
{"k":"tr","c":"ES=50 μA","m":"ST","t":275,"hi":0.12,"lo":-0.1,"ch":0.07,"cl":-0.07},
{"k":"tr","c":"ES=50 μA","m":"ST","t":385,"hi":0.08,"lo":-0.07,"ch":0.06,"cl":-0.06},
{"k":"tr","c":"ES=50 μA","m":"ST","t":495,"hi":0.06,"lo":-0.06,"ch":0.05,"cl":-0.05},
{"k":"tr","c":"ES=50 μA","m":"ST","t":605,"hi":0.05,"lo":-0.05,"ch":0.045,"cl":-0.045},
{"k":"tr","c":"ES=50 μA","m":"ST","t":715,"hi":0.05,"lo":-0.05,"ch":0.045,"cl":-0.045},
{"k":"tr","c":"ES=50 μA","m":"ST","t":825,"hi":0.05,"lo":-0.05,"ch":0.04,"cl":-0.04},
{"k":"tr","c":"ES=50 μA","m":"ST","t":935,"hi":0.05,"lo":-0.045,"ch":0.045,"cl":-0.045},
{"k":"tr","c":"ES=50 μA","m":"ST","t":1045,"hi":0.045,"lo":-0.04,"ch":0.04,"cl":-0.04},
{"k":"tr","c":"ES=50 μA","m":"ST","t":1155,"hi":0.04,"lo":-0.04,"ch":0.04,"cl":-0.04},
{"k":"tr","c":"ES=50 μA","m":"ST","t":1265,"hi":0.04,"lo":-0.04,"ch":0.04,"cl":-0.04},
{"k":"tr","c":"ES=50 μA","m":"ST","t":1395,"hi":0.035,"lo":-0.035,"ch":0.035,"cl":-0.035},
{"k":"tr","c":"ES=50 μA","m":"TA","t":55,"hi":0.06,"lo":-0.06,"ch":0.04,"cl":-0.04},
{"k":"tr","c":"ES=50 μA","m":"TA","t":165,"hi":0.05,"lo":-0.05,"ch":0.04,"cl":-0.04},
{"k":"tr","c":"ES=50 μA","m":"TA","t":275,"hi":0.045,"lo":-0.045,"ch":0.04,"cl":-0.04},
{"k":"tr","c":"ES=50 μA","m":"TA","t":385,"hi":0.04,"lo":-0.04,"ch":0.035,"cl":-0.035},
{"k":"tr","c":"ES=50 μA","m":"TA","t":495,"hi":0.04,"lo":-0.04,"ch":0.035,"cl":-0.035},
{"k":"tr","c":"ES=50 μA","m":"TA","t":605,"hi":0.04,"lo":-0.04,"ch":0.035,"cl":-0.035},
{"k":"tr","c":"ES=50 μA","m":"TA","t":715,"hi":0.04,"lo":-0.04,"ch":0.035,"cl":-0.035},
{"k":"tr","c":"ES=50 μA","m":"TA","t":825,"hi":0.035,"lo":-0.035,"ch":0.035,"cl":-0.035},
{"k":"tr","c":"ES=50 μA","m":"TA","t":935,"hi":0.035,"lo":-0.035,"ch":0.03,"cl":-0.03},
{"k":"tr","c":"ES=50 μA","m":"TA","t":1045,"hi":0.035,"lo":-0.035,"ch":0.035,"cl":-0.035},
{"k":"tr","c":"ES=50 μA","m":"TA","t":1155,"hi":0.035,"lo":-0.035,"ch":0.03,"cl":-0.03},
{"k":"tr","c":"ES=50 μA","m":"TA","t":1265,"hi":0.035,"lo":-0.035,"ch":0.035,"cl":-0.035},
{"k":"tr","c":"ES=50 μA","m":"TA","t":1395,"hi":0.03,"lo":-0.03,"ch":0.03,"cl":-0.03},
{"k":"tr","c":"ES=60 μA","m":"GS","t":85,"hi":0.2,"lo":-0.2,"ch":0.15,"cl":-0.15},
{"k":"tr","c":"ES=60 μA","m":"GS","t":195,"hi":0.17,"lo":-0.18,"ch":0.14,"cl":-0.14},
{"k":"tr","c":"ES=60 μA","m":"GS","t":305,"hi":0.2,"lo":-0.2,"ch":0.16,"cl":-0.16},
{"k":"tr","c":"ES=60 μA","m":"GS","t":415,"hi":0.18,"lo":-0.17,"ch":0.14,"cl":-0.14},
{"k":"tr","c":"ES=60 μA","m":"GS","t":525,"hi":0.19,"lo":-0.19,"ch":0.15,"cl":-0.15},
{"k":"tr","c":"ES=60 μA","m":"GS","t":635,"hi":0.2,"lo":-0.2,"ch":0.16,"cl":-0.16},
{"k":"tr","c":"ES=60 μA","m":"GS","t":745,"hi":0.19,"lo":-0.18,"ch":0.15,"cl":-0.15},
{"k":"tr","c":"ES=60 μA","m":"GS","t":855,"hi":0.18,"lo":-0.17,"ch":0.14,"cl":-0.14},
{"k":"tr","c":"ES=60 μA","m":"GS","t":965,"hi":0.17,"lo":-0.16,"ch":0.13,"cl":-0.13},
{"k":"tr","c":"ES=60 μA","m":"GS","t":1075,"hi":0.15,"lo":-0.14,"ch":0.12,"cl":-0.12},
{"k":"tr","c":"ES=60 μA","m":"GS","t":1185,"hi":0.13,"lo":-0.12,"ch":0.1,"cl":-0.1},
{"k":"tr","c":"ES=60 μA","m":"GS","t":1295,"hi":0.11,"lo":-0.1,"ch":0.09,"cl":-0.09},
{"k":"tr","c":"ES=60 μA","m":"GS","t":1415,"hi":0.07,"lo":-0.06,"ch":0.05,"cl":-0.05},
{"k":"tr","c":"ES=60 μA","m":"BF","t":85,"hi":0.25,"lo":-0.25,"ch":0.2,"cl":-0.2},
{"k":"tr","c":"ES=60 μA","m":"BF","t":195,"hi":0.26,"lo":-0.26,"ch":0.22,"cl":-0.22},
{"k":"tr","c":"ES=60 μA","m":"BF","t":305,"hi":0.27,"lo":-0.27,"ch":0.24,"cl":-0.24},
{"k":"tr","c":"ES=60 μA","m":"BF","t":415,"hi":0.28,"lo":-0.28,"ch":0.25,"cl":-0.25},
{"k":"tr","c":"ES=60 μA","m":"BF","t":525,"hi":0.28,"lo":-0.28,"ch":0.26,"cl":-0.26},
{"k":"tr","c":"ES=60 μA","m":"BF","t":635,"hi":0.29,"lo":-0.29,"ch":0.26,"cl":-0.26},
{"k":"tr","c":"ES=60 μA","m":"BF","t":745,"hi":0.28,"lo":-0.28,"ch":0.25,"cl":-0.25},
{"k":"tr","c":"ES=60 μA","m":"BF","t":855,"hi":0.26,"lo":-0.26,"ch":0.22,"cl":-0.22},
{"k":"tr","c":"ES=60 μA","m":"BF","t":965,"hi":0.22,"lo":-0.22,"ch":0.18,"cl":-0.18},
{"k":"tr","c":"ES=60 μA","m":"BF","t":1075,"hi":0.19,"lo":-0.19,"ch":0.15,"cl":-0.15},
{"k":"tr","c":"ES=60 μA","m":"BF","t":1185,"hi":0.16,"lo":-0.16,"ch":0.12,"cl":-0.12},
{"k":"tr","c":"ES=60 μA","m":"BF","t":1295,"hi":0.13,"lo":-0.13,"ch":0.1,"cl":-0.1},
{"k":"tr","c":"ES=60 μA","m":"BF","t":1415,"hi":0.09,"lo":-0.09,"ch":0.06,"cl":-0.06},
{"k":"tr","c":"ES=60 μA","m":"ST","t":85,"hi":0.13,"lo":-0.13,"ch":0.1,"cl":-0.1},
{"k":"tr","c":"ES=60 μA","m":"ST","t":195,"hi":0.14,"lo":-0.14,"ch":0.12,"cl":-0.12},
{"k":"tr","c":"ES=60 μA","m":"ST","t":305,"hi":0.16,"lo":-0.16,"ch":0.14,"cl":-0.14},
{"k":"tr","c":"ES=60 μA","m":"ST","t":415,"hi":0.15,"lo":-0.15,"ch":0.12,"cl":-0.12},
{"k":"tr","c":"ES=60 μA","m":"ST","t":525,"hi":0.16,"lo":-0.16,"ch":0.13,"cl":-0.13},
{"k":"tr","c":"ES=60 μA","m":"ST","t":635,"hi":0.16,"lo":-0.16,"ch":0.13,"cl":-0.13},
{"k":"tr","c":"ES=60 μA","m":"ST","t":745,"hi":0.15,"lo":-0.15,"ch":0.12,"cl":-0.12},
{"k":"tr","c":"ES=60 μA","m":"ST","t":855,"hi":0.14,"lo":-0.14,"ch":0.12,"cl":-0.12},
{"k":"tr","c":"ES=60 μA","m":"ST","t":965,"hi":0.14,"lo":-0.14,"ch":0.11,"cl":-0.11},
{"k":"tr","c":"ES=60 μA","m":"ST","t":1075,"hi":0.13,"lo":-0.13,"ch":0.1,"cl":-0.1},
{"k":"tr","c":"ES=60 μA","m":"ST","t":1185,"hi":0.12,"lo":-0.12,"ch":0.09,"cl":-0.09},
{"k":"tr","c":"ES=60 μA","m":"ST","t":1295,"hi":0.1,"lo":-0.1,"ch":0.08,"cl":-0.08},
{"k":"tr","c":"ES=60 μA","m":"ST","t":1415,"hi":0.07,"lo":-0.07,"ch":0.05,"cl":-0.05},
{"k":"tr","c":"ES=60 μA","m":"TA","t":85,"hi":0.08,"lo":-0.08,"ch":0.07,"cl":-0.07},
{"k":"tr","c":"ES=60 μA","m":"TA","t":195,"hi":0.09,"lo":-0.09,"ch":0.07,"cl":-0.07},
{"k":"tr","c":"ES=60 μA","m":"TA","t":305,"hi":0.1,"lo":-0.1,"ch":0.08,"cl":-0.08},
{"k":"tr","c":"ES=60 μA","m":"TA","t":415,"hi":0.11,"lo":-0.11,"ch":0.09,"cl":-0.09},
{"k":"tr","c":"ES=60 μA","m":"TA","t":525,"hi":0.12,"lo":-0.12,"ch":0.1,"cl":-0.1},
{"k":"tr","c":"ES=60 μA","m":"TA","t":635,"hi":0.13,"lo":-0.13,"ch":0.1,"cl":-0.1},
{"k":"tr","c":"ES=60 μA","m":"TA","t":745,"hi":0.11,"lo":-0.11,"ch":0.09,"cl":-0.09},
{"k":"tr","c":"ES=60 μA","m":"TA","t":855,"hi":0.1,"lo":-0.1,"ch":0.08,"cl":-0.08},
{"k":"tr","c":"ES=60 μA","m":"TA","t":965,"hi":0.1,"lo":-0.1,"ch":0.08,"cl":-0.08},
{"k":"tr","c":"ES=60 μA","m":"TA","t":1075,"hi":0.08,"lo":-0.08,"ch":0.07,"cl":-0.07},
{"k":"tr","c":"ES=60 μA","m":"TA","t":1185,"hi":0.07,"lo":-0.07,"ch":0.06,"cl":-0.06},
{"k":"tr","c":"ES=60 μA","m":"TA","t":1295,"hi":0.06,"lo":-0.06,"ch":0.05,"cl":-0.05},
{"k":"tr","c":"ES=60 μA","m":"TA","t":1415,"hi":0.05,"lo":-0.05,"ch":0.04,"cl":-0.04},
{"k":"tr","c":"ES=80 μA","m":"GS","t":55,"hi":0.25,"lo":-0.25,"ch":0.18,"cl":-0.18},
{"k":"tr","c":"ES=80 μA","m":"GS","t":165,"hi":0.3,"lo":-0.3,"ch":0.22,"cl":-0.22},
{"k":"tr","c":"ES=80 μA","m":"GS","t":275,"hi":0.33,"lo":-0.33,"ch":0.26,"cl":-0.26},
{"k":"tr","c":"ES=80 μA","m":"GS","t":385,"hi":0.35,"lo":-0.35,"ch":0.29,"cl":-0.29},
{"k":"tr","c":"ES=80 μA","m":"GS","t":495,"hi":0.33,"lo":-0.33,"ch":0.28,"cl":-0.28},
{"k":"tr","c":"ES=80 μA","m":"GS","t":605,"hi":0.28,"lo":-0.28,"ch":0.24,"cl":-0.24},
{"k":"tr","c":"ES=80 μA","m":"GS","t":715,"hi":0.23,"lo":-0.23,"ch":0.2,"cl":-0.2},
{"k":"tr","c":"ES=80 μA","m":"GS","t":825,"hi":0.19,"lo":-0.19,"ch":0.16,"cl":-0.16},
{"k":"tr","c":"ES=80 μA","m":"GS","t":935,"hi":0.16,"lo":-0.16,"ch":0.13,"cl":-0.13},
{"k":"tr","c":"ES=80 μA","m":"GS","t":1045,"hi":0.13,"lo":-0.13,"ch":0.11,"cl":-0.11},
{"k":"tr","c":"ES=80 μA","m":"GS","t":1155,"hi":0.1,"lo":-0.1,"ch":0.09,"cl":-0.09},
{"k":"tr","c":"ES=80 μA","m":"GS","t":1265,"hi":0.08,"lo":-0.08,"ch":0.07,"cl":-0.07},
{"k":"tr","c":"ES=80 μA","m":"GS","t":1405,"hi":0.06,"lo":-0.06,"ch":0.05,"cl":-0.05},
{"k":"tr","c":"ES=80 μA","m":"BF","t":55,"hi":0.25,"lo":-0.25,"ch":0.18,"cl":-0.18},
{"k":"tr","c":"ES=80 μA","m":"BF","t":165,"hi":0.32,"lo":-0.32,"ch":0.23,"cl":-0.23},
{"k":"tr","c":"ES=80 μA","m":"BF","t":275,"hi":0.36,"lo":-0.36,"ch":0.28,"cl":-0.28},
{"k":"tr","c":"ES=80 μA","m":"BF","t":385,"hi":0.38,"lo":-0.38,"ch":0.31,"cl":-0.31},
{"k":"tr","c":"ES=80 μA","m":"BF","t":495,"hi":0.36,"lo":-0.36,"ch":0.3,"cl":-0.3},
{"k":"tr","c":"ES=80 μA","m":"BF","t":605,"hi":0.3,"lo":-0.3,"ch":0.27,"cl":-0.27},
{"k":"tr","c":"ES=80 μA","m":"BF","t":715,"hi":0.24,"lo":-0.24,"ch":0.22,"cl":-0.22},
{"k":"tr","c":"ES=80 μA","m":"BF","t":825,"hi":0.19,"lo":-0.19,"ch":0.17,"cl":-0.17},
{"k":"tr","c":"ES=80 μA","m":"BF","t":935,"hi":0.15,"lo":-0.15,"ch":0.13,"cl":-0.13},
{"k":"tr","c":"ES=80 μA","m":"BF","t":1045,"hi":0.12,"lo":-0.12,"ch":0.11,"cl":-0.11},
{"k":"tr","c":"ES=80 μA","m":"BF","t":1155,"hi":0.1,"lo":-0.1,"ch":0.09,"cl":-0.09},
{"k":"tr","c":"ES=80 μA","m":"BF","t":1265,"hi":0.08,"lo":-0.08,"ch":0.07,"cl":-0.07},
{"k":"tr","c":"ES=80 μA","m":"BF","t":1405,"hi":0.06,"lo":-0.06,"ch":0.05,"cl":-0.05},
{"k":"tr","c":"ES=80 μA","m":"ST","t":55,"hi":0.2,"lo":-0.2,"ch":0.12,"cl":-0.12},
{"k":"tr","c":"ES=80 μA","m":"ST","t":165,"hi":0.3,"lo":-0.3,"ch":0.2,"cl":-0.2},
{"k":"tr","c":"ES=80 μA","m":"ST","t":275,"hi":0.35,"lo":-0.35,"ch":0.27,"cl":-0.27},
{"k":"tr","c":"ES=80 μA","m":"ST","t":385,"hi":0.36,"lo":-0.36,"ch":0.3,"cl":-0.3},
{"k":"tr","c":"ES=80 μA","m":"ST","t":495,"hi":0.34,"lo":-0.34,"ch":0.29,"cl":-0.29},
{"k":"tr","c":"ES=80 μA","m":"ST","t":605,"hi":0.28,"lo":-0.28,"ch":0.25,"cl":-0.25},
{"k":"tr","c":"ES=80 μA","m":"ST","t":715,"hi":0.22,"lo":-0.22,"ch":0.19,"cl":-0.19},
{"k":"tr","c":"ES=80 μA","m":"ST","t":825,"hi":0.18,"lo":-0.18,"ch":0.15,"cl":-0.15},
{"k":"tr","c":"ES=80 μA","m":"ST","t":935,"hi":0.15,"lo":-0.15,"ch":0.13,"cl":-0.13},
{"k":"tr","c":"ES=80 μA","m":"ST","t":1045,"hi":0.13,"lo":-0.13,"ch":0.11,"cl":-0.11},
{"k":"tr","c":"ES=80 μA","m":"ST","t":1155,"hi":0.11,"lo":-0.11,"ch":0.09,"cl":-0.09},
{"k":"tr","c":"ES=80 μA","m":"ST","t":1265,"hi":0.09,"lo":-0.09,"ch":0.08,"cl":-0.08},
{"k":"tr","c":"ES=80 μA","m":"ST","t":1405,"hi":0.06,"lo":-0.06,"ch":0.05,"cl":-0.05},
{"k":"tr","c":"ES=80 μA","m":"TA","t":55,"hi":0.15,"lo":-0.15,"ch":0.1,"cl":-0.1},
{"k":"tr","c":"ES=80 μA","m":"TA","t":165,"hi":0.2,"lo":-0.2,"ch":0.14,"cl":-0.14},
{"k":"tr","c":"ES=80 μA","m":"TA","t":275,"hi":0.22,"lo":-0.22,"ch":0.17,"cl":-0.17},
{"k":"tr","c":"ES=80 μA","m":"TA","t":385,"hi":0.22,"lo":-0.22,"ch":0.18,"cl":-0.18},
{"k":"tr","c":"ES=80 μA","m":"TA","t":495,"hi":0.2,"lo":-0.2,"ch":0.17,"cl":-0.17},
{"k":"tr","c":"ES=80 μA","m":"TA","t":605,"hi":0.17,"lo":-0.17,"ch":0.14,"cl":-0.14},
{"k":"tr","c":"ES=80 μA","m":"TA","t":715,"hi":0.14,"lo":-0.14,"ch":0.11,"cl":-0.11},
{"k":"tr","c":"ES=80 μA","m":"TA","t":825,"hi":0.11,"lo":-0.11,"ch":0.09,"cl":-0.09},
{"k":"tr","c":"ES=80 μA","m":"TA","t":935,"hi":0.09,"lo":-0.09,"ch":0.07,"cl":-0.07},
{"k":"tr","c":"ES=80 μA","m":"TA","t":1045,"hi":0.08,"lo":-0.08,"ch":0.06,"cl":-0.06},
{"k":"tr","c":"ES=80 μA","m":"TA","t":1155,"hi":0.07,"lo":-0.07,"ch":0.05,"cl":-0.05},
{"k":"tr","c":"ES=80 μA","m":"TA","t":1265,"hi":0.06,"lo":-0.06,"ch":0.05,"cl":-0.05},
{"k":"tr","c":"ES=80 μA","m":"TA","t":1405,"hi":0.05,"lo":-0.05,"ch":0.04,"cl":-0.04},
{"k":"stim","c":"ES=50 μA","m":"GS","t":71,"hi":0.86,"lo":-0.9},
{"k":"stim","c":"ES=50 μA","m":"BF","t":71,"hi":0.9,"lo":-0.9},
{"k":"stim","c":"ES=50 μA","m":"ST","t":71,"hi":0.9,"lo":-0.9},
{"k":"stim","c":"ES=50 μA","m":"TA","t":71,"hi":0.9,"lo":-0.59},
{"k":"stim","c":"ES=60 μA","m":"GS","t":117,"hi":0.86,"lo":-0.9},
{"k":"stim","c":"ES=60 μA","m":"BF","t":117,"hi":0.9,"lo":-0.9},
{"k":"stim","c":"ES=60 μA","m":"ST","t":117,"hi":0.9,"lo":-0.9},
{"k":"stim","c":"ES=60 μA","m":"TA","t":117,"hi":0.9,"lo":-0.77},
{"k":"stim","c":"ES=80 μA","m":"GS","t":96,"hi":0.86,"lo":-0.9},
{"k":"stim","c":"ES=80 μA","m":"BF","t":96,"hi":0.9,"lo":-0.9},
{"k":"stim","c":"ES=80 μA","m":"ST","t":96,"hi":0.9,"lo":-0.9},
{"k":"stim","c":"ES=80 μA","m":"TA","t":96,"hi":0.9,"lo":-0.66},
{"k":"sep","c":"ES=0","m":"BF","t":236,"t2":1379,"hi":0.85},
{"k":"sep","c":"ES=0","m":"ST","t":236,"t2":1379,"hi":0.86},
{"k":"sep","c":"ES=0","m":"TA","t":236,"t2":1379,"hi":0.85},
{"k":"sep","c":"ES=50 μA","m":"GS","t":0,"t2":1471,"hi":-0.74},
{"k":"sep","c":"ES=50 μA","m":"BF","t":0,"t2":1471,"hi":-0.76},
{"k":"sep","c":"ES=50 μA","m":"ST","t":0,"t2":1471,"hi":-0.74},
{"k":"sep","c":"ES=60 μA","m":"BF","t":31,"t2":1483,"hi":0.87},
{"k":"sep","c":"ES=60 μA","m":"ST","t":31,"t2":1483,"hi":0.9},
{"k":"sep","c":"ES=60 μA","m":"ST","t":31,"t2":1483,"hi":-0.89},
{"k":"sep","c":"ES=80 μA","m":"GS","t":4,"t2":1490,"hi":-0.87},
{"k":"sep","c":"ES=80 μA","m":"BF","t":4,"t2":1490,"hi":-0.82},
{"k":"sep","c":"ES=80 μA","m":"ST","t":4,"t2":1490,"hi":-0.8},
{"k":"sb","c":"ES=80 μA","m":"TA","t":847,"t2":847,"hi":-0.84,"lo":-1.24},
{"k":"sb","c":"ES=80 μA","m":"TA","t":847,"t2":1343,"hi":-1.24,"lo":-1.24},
{"k":"sbl","c":"ES=80 μA","m":"TA","t":614,"hi":-0.99,"s":"0.4V"},
{"k":"sbl","c":"ES=80 μA","m":"TA","t":1095,"hi":-1.57,"s":"500 ms"},
{"k":"lab","c":"ES=0","m":"GS","t":-535,"hi":1.5,"s":"B"}
]},
"facet": {
"column": {"field": "c", "type": "nominal", "sort": ["ES=0","ES=50 μA","ES=60 μA","ES=80 μA"], "title": null, "header": {"labelFontSize": 15, "labelColor": "black", "labelPadding": 12, "labelFont": "Liberation Sans"}},
"row": {"field": "m", "type": "nominal", "sort": ["GS","BF","ST","TA"], "title": null, "header": {"labelAngle": 0, "labelAlign": "right", "labelFontSize": 18, "labelFontWeight": "bold", "labelColor": "black", "labelPadding": -36, "labelFont": "Liberation Sans"}}
},
"bounds": "flush",
"spacing": {"row": 0, "column": 14.5},
"spec": {
"width": 105, "height": 49.7,
"layer": [
{"transform": [{"filter": "datum.k === 'sep'"}],
 "mark": {"type": "rule", "color": "#a3a3a3", "strokeWidth": 1.5},
 "encoding": {"x": {"field": "t", "type": "quantitative", "scale": {"domain": [0, 1500], "nice": false, "zero": false}, "axis": null}, "x2": {"field": "t2"}, "y": {"field": "hi", "type": "quantitative", "scale": {"domain": [-0.9, 0.9], "nice": false, "zero": false}, "axis": null}}},
{"transform": [{"filter": "datum.k === 'tr'"}],
 "mark": {"type": "area", "color": "#8e8e8e", "opacity": 0.85},
 "encoding": {"x": {"field": "t", "type": "quantitative"}, "y": {"field": "hi", "type": "quantitative"}, "y2": {"field": "lo"}}},
{"transform": [{"filter": "datum.k === 'tr'"}],
 "mark": {"type": "area", "color": "black"},
 "encoding": {"x": {"field": "t", "type": "quantitative"}, "y": {"field": "ch", "type": "quantitative"}, "y2": {"field": "cl"}}},
{"transform": [{"filter": "datum.k === 'stim'"}],
 "mark": {"type": "rule", "color": "black", "strokeWidth": 3},
 "encoding": {"x": {"field": "t", "type": "quantitative"}, "y": {"field": "hi", "type": "quantitative"}, "y2": {"field": "lo"}}},
{"transform": [{"filter": "datum.k === 'sb'"}],
 "mark": {"type": "rule", "color": "black", "strokeWidth": 2},
 "encoding": {"x": {"field": "t", "type": "quantitative"}, "x2": {"field": "t2"}, "y": {"field": "hi", "type": "quantitative"}, "y2": {"field": "lo"}}},
{"transform": [{"filter": "datum.k === 'sbl'"}],
 "mark": {"type": "text", "fontSize": 11, "color": "black", "baseline": "middle"},
 "encoding": {"x": {"field": "t", "type": "quantitative"}, "y": {"field": "hi", "type": "quantitative"}, "text": {"field": "s"}}},
{"transform": [{"filter": "datum.k === 'lab'"}],
 "mark": {"type": "text", "fontSize": 31, "fontWeight": "bold", "font": "DejaVu Sans", "color": "black", "baseline": "middle"},
 "encoding": {"x": {"field": "t", "type": "quantitative"}, "y": {"field": "hi", "type": "quantitative"}, "text": {"field": "s"}}}
]
}
}
]
}
